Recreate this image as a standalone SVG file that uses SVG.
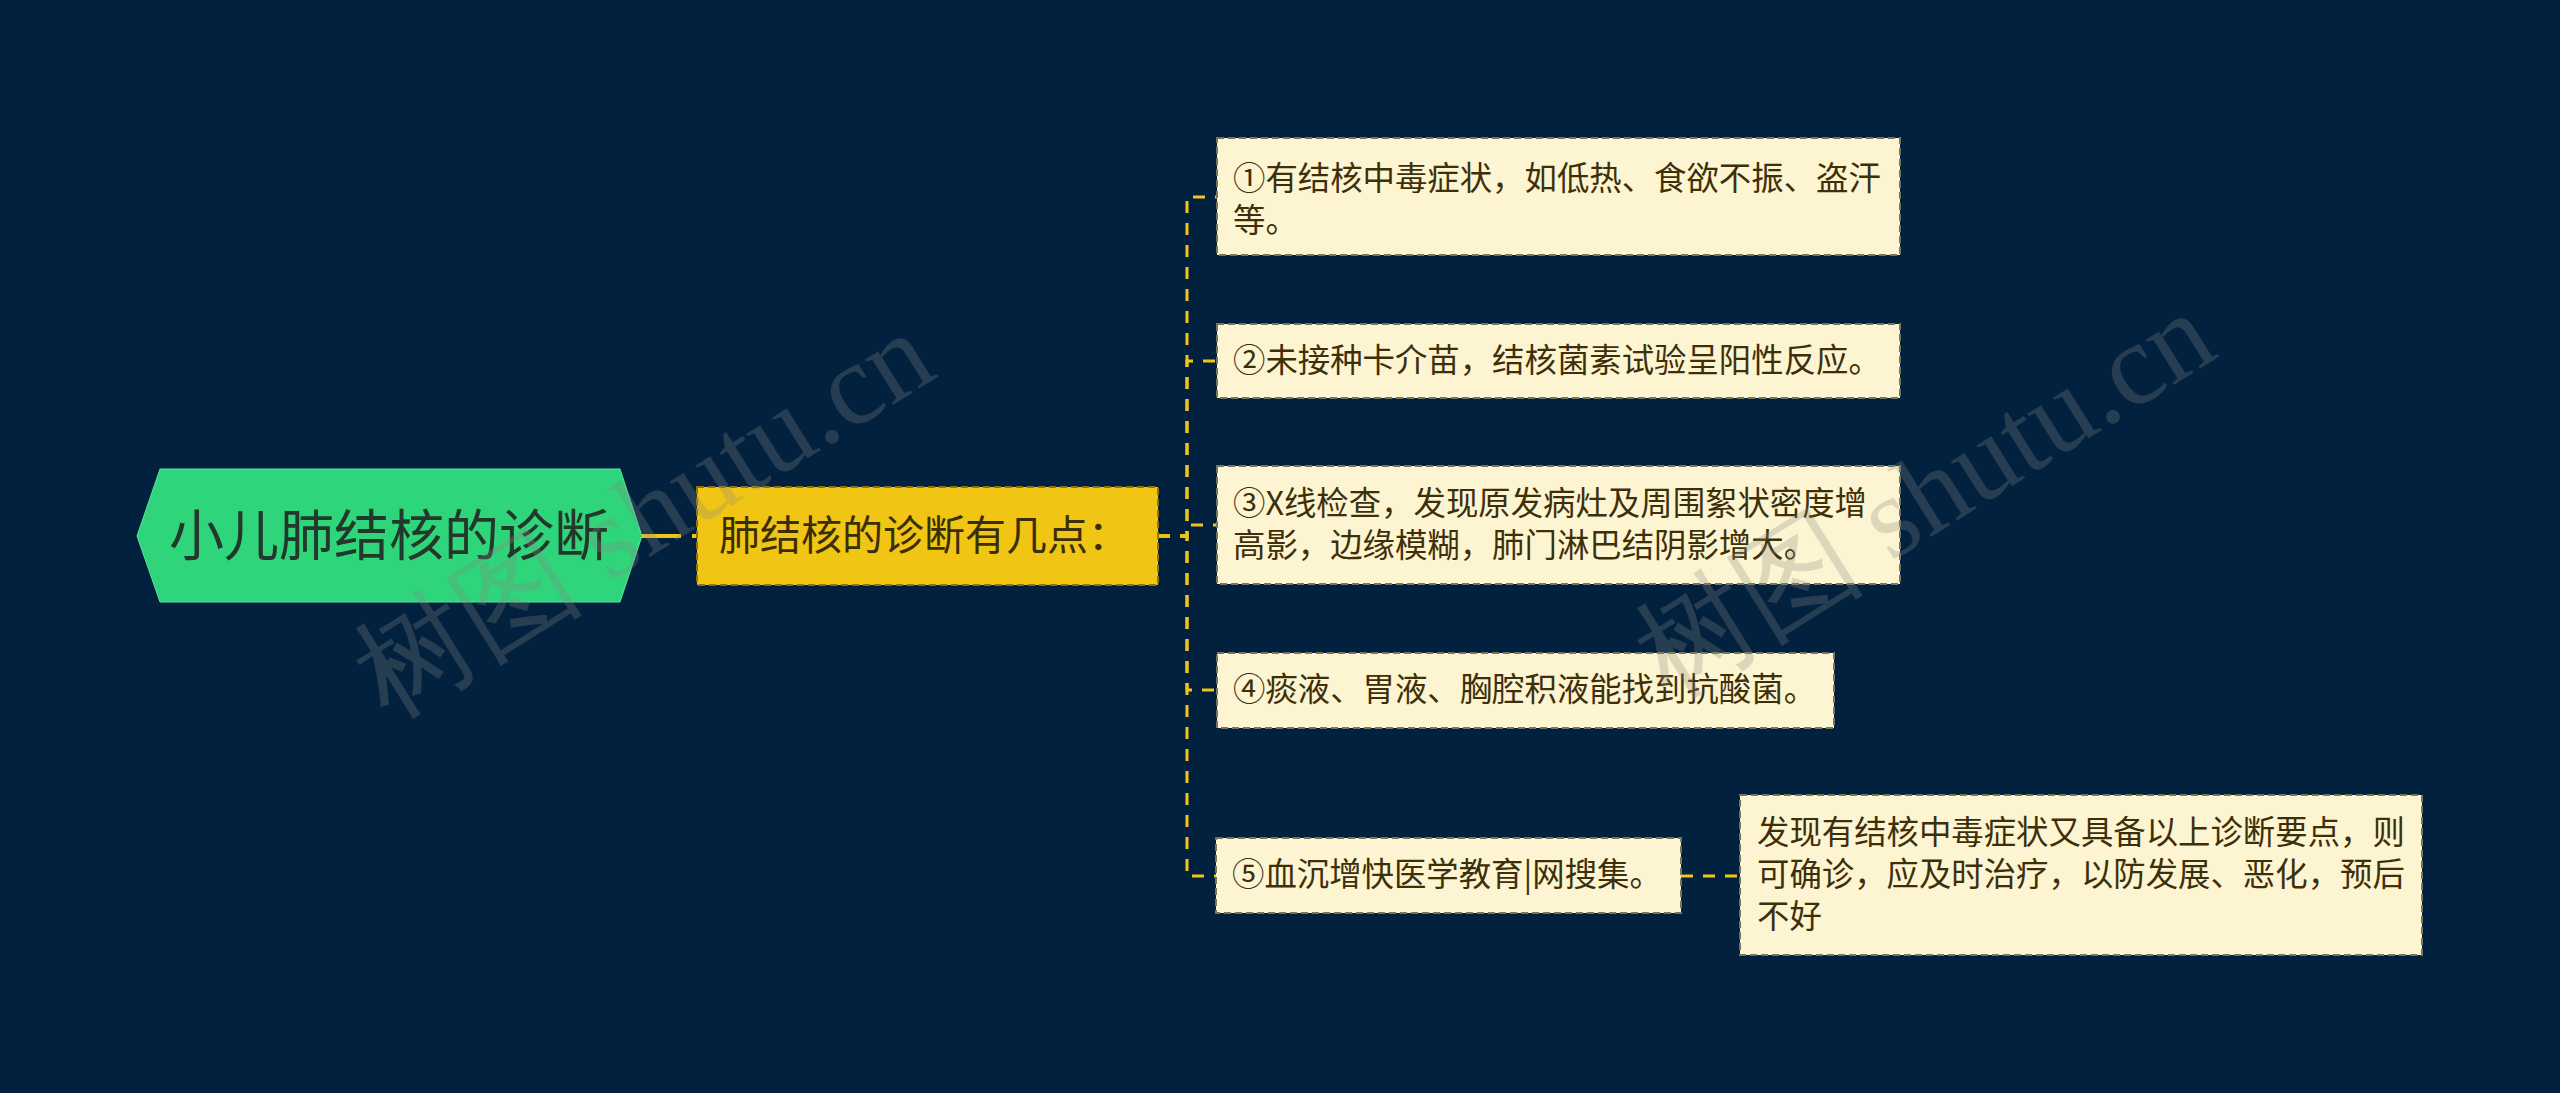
<svg xmlns="http://www.w3.org/2000/svg" width="2560" height="1093" viewBox="0 0 2560 1093">
<style>
.cjk{font-family:"Noto Sans CJK SC","Noto Sans",sans-serif}
.leaf rect{fill:#fdf4d2;stroke:#77755f;stroke-width:2;stroke-dasharray:7,4}
.leaf text{font-size:32.4px;fill:#3d3009}
.conn{fill:none;stroke:#f0c419;stroke-width:3;stroke-dasharray:12,10}
.wm{font-family:"Liberation Serif",serif;font-size:116px;fill:#8a8a80;fill-opacity:0.28}
</style>
<rect x="0" y="0" width="2560" height="1093" fill="#02213f"/>
<g id="connectors">
<path class="conn" d="M642,536 H697" style="stroke-width:4;stroke-dasharray:39,11"/>
<path class="conn" d="M1158,536 H1187 V197 H1217"/>
<path class="conn" d="M1158,536 H1187 V361 H1217"/>
<path class="conn" d="M1158,536 H1187 V525 H1217"/>
<path class="conn" d="M1158,536 H1187 V690 H1217"/>
<path class="conn" d="M1158,536 H1187 V876 H1216"/>
<path class="conn" d="M1681,876 H1740"/>
</g>
<g id="root">
<polygon points="137,536 160,469 620,469 642,536 620,602 160,602" fill="#2fd57a" stroke="#5fe39c" stroke-width="1"/>
<text class="cjk" x="389" y="555" text-anchor="middle" font-size="55" fill="#24372b">小儿肺结核的诊断</text>
</g>
<g id="main">
<rect x="697" y="487" width="461" height="98" fill="#f1c513" stroke="#8f7510" stroke-width="2" stroke-dasharray="7,4"/>
<text class="cjk" x="719" y="550" font-size="41" fill="#3a2e06">肺结核的诊断有几点：</text>
</g>
<g id="item1" class="leaf cjk">
<rect x="1217" y="138" width="683" height="117"/>
<text x="1233" y="190">①有结核中毒症状，如低热、食欲不振、盗汗</text>
<text x="1233" y="232">等。</text>
</g>
<g id="item2" class="leaf cjk">
<rect x="1217" y="324" width="683" height="74"/>
<text x="1233" y="372">②未接种卡介苗，结核菌素试验呈阳性反应。</text>
</g>
<g id="item3" class="leaf cjk">
<rect x="1217" y="466" width="683" height="118"/>
<text x="1233" y="515">③X线检查，发现原发病灶及周围絮状密度增</text>
<text x="1233" y="557">高影，边缘模糊，肺门淋巴结阴影增大。</text>
</g>
<g id="item4" class="leaf cjk">
<rect x="1217" y="653" width="617" height="75"/>
<text x="1233" y="701">④痰液、胃液、胸腔积液能找到抗酸菌。</text>
</g>
<g id="item5" class="leaf cjk">
<rect x="1216" y="838" width="465" height="75"/>
<text x="1232" y="886">⑤血沉增快医学教育|网搜集。</text>
</g>
<g id="item6" class="leaf cjk">
<rect x="1740" y="795" width="682" height="160"/>
<text x="1757" y="844">发现有结核中毒症状又具备以上诊断要点，则</text>
<text x="1757" y="886">可确诊，应及时治疗，以防发展、恶化，预后</text>
<text x="1757" y="928">不好</text>
</g>
<g id="watermarks">
<text class="wm" x="664" y="548" text-anchor="middle" transform="rotate(-32 664 548)">树图 shutu.cn</text>
<text class="wm" x="1945" y="528" text-anchor="middle" transform="rotate(-32 1945 528)">树图 shutu.cn</text>
</g>
</svg>
